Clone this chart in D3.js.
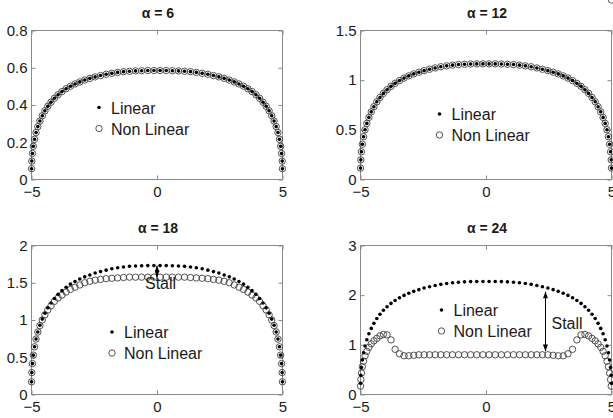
<!DOCTYPE html>
<html>
<head>
<meta charset="utf-8">
<script src="https://cdn.jsdelivr.net/npm/d3@7"></script>
<style>
  body { margin: 0; background: #fff; }
  svg { display: block; }
  text { font-family: "Liberation Sans", Arial, sans-serif; }
</style>
</head>
<body>
<svg id="chart" width="613" height="418"></svg>
<script>
// Spanwise stations (cosine spaced, -5 .. 5)
const span = [-4.998, -4.987, -4.962, -4.926, -4.878, -4.819, -4.748, -4.665, -4.571, -4.466, -4.350, -4.224, -4.088, -3.942, -3.786, -3.621,
  -3.448, -3.266, -3.076, -2.879, -2.675, -2.465, -2.248, -2.026, -1.800, -1.568, -1.334, -1.096, -0.855, -0.612, -0.368, -0.123,
  0.123, 0.368, 0.612, 0.855, 1.096, 1.334, 1.568, 1.800, 2.026, 2.248, 2.465, 2.675, 2.879, 3.076, 3.266, 3.448,
  3.621, 3.786, 3.942, 4.088, 4.224, 4.350, 4.466, 4.571, 4.665, 4.748, 4.819, 4.878, 4.926, 4.962, 4.987, 4.998];

// alpha = 6
const linear6 = [0.058, 0.099, 0.140, 0.178, 0.216, 0.252, 0.284, 0.314, 0.342, 0.369, 0.393, 0.415, 0.436, 0.455, 0.472, 0.487,
  0.501, 0.513, 0.524, 0.534, 0.543, 0.551, 0.558, 0.565, 0.570, 0.575, 0.579, 0.581, 0.583, 0.584, 0.585, 0.585,
  0.585, 0.585, 0.584, 0.583, 0.581, 0.579, 0.575, 0.570, 0.565, 0.558, 0.551, 0.543, 0.534, 0.524, 0.513, 0.501,
  0.487, 0.472, 0.455, 0.436, 0.415, 0.393, 0.369, 0.342, 0.314, 0.284, 0.252, 0.216, 0.178, 0.140, 0.099, 0.058];
const nonLinear6 = [0.058, 0.099, 0.140, 0.178, 0.216, 0.252, 0.284, 0.314, 0.342, 0.369, 0.393, 0.415, 0.436, 0.455, 0.472, 0.487,
  0.501, 0.513, 0.524, 0.534, 0.543, 0.551, 0.558, 0.565, 0.570, 0.575, 0.579, 0.581, 0.583, 0.584, 0.585, 0.585,
  0.585, 0.585, 0.584, 0.583, 0.581, 0.579, 0.575, 0.570, 0.565, 0.558, 0.551, 0.543, 0.534, 0.524, 0.513, 0.501,
  0.487, 0.472, 0.455, 0.436, 0.415, 0.393, 0.369, 0.342, 0.314, 0.284, 0.252, 0.216, 0.178, 0.140, 0.099, 0.058];

// alpha = 12
const linear12 = [0.115, 0.198, 0.279, 0.355, 0.431, 0.501, 0.565, 0.625, 0.681, 0.733, 0.782, 0.826, 0.867, 0.904, 0.938, 0.968,
  0.996, 1.021, 1.043, 1.063, 1.080, 1.096, 1.110, 1.123, 1.135, 1.144, 1.151, 1.157, 1.160, 1.163, 1.164, 1.164,
  1.164, 1.164, 1.163, 1.160, 1.157, 1.151, 1.144, 1.135, 1.123, 1.110, 1.096, 1.080, 1.063, 1.043, 1.021, 0.996,
  0.968, 0.938, 0.904, 0.867, 0.826, 0.782, 0.733, 0.681, 0.625, 0.565, 0.501, 0.431, 0.355, 0.279, 0.198, 0.115];
const nonLinear12 = [0.115, 0.198, 0.279, 0.355, 0.431, 0.501, 0.565, 0.625, 0.681, 0.733, 0.782, 0.826, 0.867, 0.904, 0.938, 0.968,
  0.996, 1.021, 1.043, 1.063, 1.080, 1.096, 1.110, 1.123, 1.135, 1.144, 1.151, 1.157, 1.160, 1.163, 1.164, 1.164,
  1.164, 1.164, 1.163, 1.160, 1.157, 1.151, 1.144, 1.135, 1.123, 1.110, 1.096, 1.080, 1.063, 1.043, 1.021, 0.996,
  0.968, 0.938, 0.904, 0.867, 0.826, 0.782, 0.733, 0.681, 0.625, 0.565, 0.501, 0.431, 0.355, 0.279, 0.198, 0.115];

// alpha = 18
const linear18 = [0.171, 0.294, 0.415, 0.528, 0.640, 0.744, 0.839, 0.929, 1.012, 1.090, 1.163, 1.228, 1.289, 1.344, 1.394, 1.439,
  1.481, 1.517, 1.550, 1.579, 1.605, 1.630, 1.650, 1.669, 1.687, 1.701, 1.711, 1.720, 1.725, 1.728, 1.730, 1.730,
  1.730, 1.730, 1.728, 1.725, 1.720, 1.711, 1.701, 1.687, 1.669, 1.650, 1.630, 1.605, 1.579, 1.550, 1.517, 1.481,
  1.439, 1.394, 1.344, 1.289, 1.228, 1.163, 1.090, 1.012, 0.929, 0.839, 0.744, 0.640, 0.528, 0.415, 0.294, 0.171];
const nonLinear18 = [0.171, 0.294, 0.415, 0.528, 0.640, 0.744, 0.839, 0.925, 1.000, 1.070, 1.135, 1.190, 1.250, 1.295, 1.335, 1.375,
  1.410, 1.440, 1.470, 1.500, 1.520, 1.535, 1.545, 1.555, 1.560, 1.565, 1.570, 1.575, 1.575, 1.575, 1.575, 1.575,
  1.575, 1.575, 1.575, 1.575, 1.575, 1.570, 1.565, 1.560, 1.555, 1.545, 1.535, 1.520, 1.500, 1.470, 1.440, 1.410,
  1.375, 1.335, 1.295, 1.250, 1.190, 1.135, 1.070, 1.000, 0.925, 0.839, 0.744, 0.640, 0.528, 0.415, 0.294, 0.171];

// alpha = 24
const linear24 = [0.225, 0.387, 0.546, 0.694, 0.842, 0.978, 1.103, 1.222, 1.331, 1.433, 1.529, 1.615, 1.695, 1.768, 1.834, 1.893,
  1.947, 1.995, 2.038, 2.077, 2.111, 2.143, 2.170, 2.195, 2.218, 2.236, 2.250, 2.261, 2.268, 2.273, 2.275, 2.275,
  2.275, 2.275, 2.273, 2.268, 2.261, 2.250, 2.236, 2.218, 2.195, 2.170, 2.143, 2.111, 2.077, 2.038, 1.995, 1.947,
  1.893, 1.834, 1.768, 1.695, 1.615, 1.529, 1.433, 1.331, 1.222, 1.103, 0.978, 0.842, 0.694, 0.546, 0.387, 0.225];
const nonLinear24 = [0.167, 0.300, 0.430, 0.560, 0.670, 0.780, 0.870, 0.950, 1.020, 1.080, 1.130, 1.180, 1.210, 1.200, 1.100, 0.910,
  0.820, 0.780, 0.780, 0.790, 0.800, 0.800, 0.800, 0.800, 0.800, 0.800, 0.800, 0.800, 0.800, 0.800, 0.800, 0.800,
  0.800, 0.800, 0.800, 0.800, 0.800, 0.800, 0.800, 0.800, 0.800, 0.800, 0.800, 0.790, 0.780, 0.780, 0.820, 0.910,
  1.100, 1.200, 1.210, 1.180, 1.130, 1.080, 1.020, 0.950, 0.870, 0.780, 0.670, 0.560, 0.430, 0.300, 0.167];

// Axis ticks
const xTicks = [-5, 0, 5];
const yTicks6 = [0, 0.2, 0.4, 0.6, 0.8];
const yTicks12 = [0, 0.5, 1, 1.5];
const yTicks18 = [0, 0.5, 1, 1.5, 2];
const yTicks24 = [0, 1, 2, 3];

const titles = ["\u03b1 = 6", "\u03b1 = 12", "\u03b1 = 18", "\u03b1 = 24"];
const legendLabels = ["Linear", "Non Linear"];

// Stall arrows: [span position, upper value, lower value]
const stall18 = [0, 1.73, 1.575];
const stall24 = [2.37, 2.07, 0.87];

const panels = [
  { title: titles[0], lin: linear6, non: nonLinear6, yMax: 0.8, yTicks: yTicks6,
    box: { l: 31.5, r: 282.5, t: 30.5, b: 179.5 }, legend: { x: 99, y: 107.5 } },
  { title: titles[1], lin: linear12, non: nonLinear12, yMax: 1.5, yTicks: yTicks12,
    box: { l: 360.5, r: 611.5, t: 30.5, b: 179.5 }, legend: { x: 439.5, y: 114 } },
  { title: titles[2], lin: linear18, non: nonLinear18, yMax: 2, yTicks: yTicks18,
    box: { l: 31.5, r: 282.5, t: 245.5, b: 394.5 }, legend: { x: 112, y: 332 },
    stall: stall18, stallText: { dx: -12, dy: 23 } },
  { title: titles[3], lin: linear24, non: nonLinear24, yMax: 3, yTicks: yTicks24,
    box: { l: 360.5, r: 611.5, t: 245.5, b: 394.5 }, legend: { x: 441.5, y: 310 },
    stall: stall24, stallText: { dx: 6, dy: 37 } }
];

const svg = d3.select("#chart");
const axisColor = "#8a8a8a";
const textColor = "#1a1a1a";

const defs = svg.append("defs");
defs.append("marker")
  .attr("id", "head")
  .attr("viewBox", "0 0 8 6")
  .attr("refX", 8).attr("refY", 3)
  .attr("markerWidth", 7).attr("markerHeight", 5)
  .attr("markerUnits", "userSpaceOnUse")
  .attr("orient", "auto-start-reverse")
  .append("path").attr("d", "M0,0 L8,3 L0,6 Z").attr("fill", "#000");

function styleAxis(g, showText) {
  g.select(".domain").remove();
  g.selectAll(".tick line").attr("stroke", axisColor);
  g.selectAll(".tick text")
    .attr("fill", textColor)
    .attr("font-size", 15)
    .attr("font-family", "'Liberation Sans', Arial, sans-serif")
    .style("display", showText ? null : "none");
}

panels.forEach(p => {
  const b = p.box;
  const x = d3.scaleLinear().domain([-5, 5]).range([b.l, b.r]);
  const y = d3.scaleLinear().domain([0, p.yMax]).range([b.b, b.t]);
  const g = svg.append("g");

  // Axes (ticks point inward, box style)
  g.append("g").attr("transform", `translate(0,${b.b})`)
    .call(d3.axisBottom(x).tickValues(xTicks).tickSize(-4).tickPadding(7))
    .call(a => styleAxis(a, true));
  g.append("g").attr("transform", `translate(0,${b.t})`)
    .call(d3.axisTop(x).tickValues(xTicks).tickSize(-4).tickFormat(""))
    .call(a => styleAxis(a, false));
  g.append("g").attr("transform", `translate(${b.l},0)`)
    .call(d3.axisLeft(y).tickValues(p.yTicks).tickSize(-4).tickPadding(4).tickFormat(d3.format("")))
    .call(a => styleAxis(a, true));
  g.append("g").attr("transform", `translate(${b.r},0)`)
    .call(d3.axisRight(y).tickValues(p.yTicks).tickSize(-4).tickFormat(""))
    .call(a => styleAxis(a, false));

  g.append("rect")
    .attr("x", b.l).attr("y", b.t)
    .attr("width", b.r - b.l).attr("height", b.b - b.t)
    .attr("fill", "none").attr("stroke", axisColor).attr("stroke-width", 1);

  // Title
  g.append("text")
    .attr("x", (b.l + b.r) / 2 + 1).attr("y", b.t - 12.5)
    .attr("text-anchor", "middle")
    .attr("font-size", 14).attr("font-weight", "bold")
    .attr("fill", textColor)
    .text(p.title);

  // Non linear: open circles
  g.append("g").selectAll("circle")
    .data(span.map((s, i) => [s, p.non[i]]))
    .join("circle")
    .attr("cx", d => x(d[0])).attr("cy", d => y(d[1]))
    .attr("r", 3.2)
    .attr("fill", "none").attr("stroke", "#404040").attr("stroke-width", 0.9);

  // Linear: small dots
  g.append("g").selectAll("circle")
    .data(span.map((s, i) => [s, p.lin[i]]))
    .join("circle")
    .attr("cx", d => x(d[0])).attr("cy", d => y(d[1]))
    .attr("r", 1.8)
    .attr("fill", "#000");

  // Legend
  const lg = g.append("g").attr("transform", `translate(${p.legend.x},${p.legend.y})`);
  lg.append("circle").attr("cx", 0).attr("cy", 0).attr("r", 1.8).attr("fill", "#000");
  lg.append("circle").attr("cx", 0).attr("cy", 21).attr("r", 3.2)
    .attr("fill", "none").attr("stroke", "#404040").attr("stroke-width", 0.9);
  lg.selectAll("text").data(legendLabels).join("text")
    .attr("x", 12).attr("y", (d, i) => i * 21 + 6)
    .attr("font-size", 16).attr("fill", textColor)
    .text(d => d);

  // Stall annotation
  if (p.stall) {
    const [sx, top, bottom] = p.stall;
    g.append("line")
      .attr("x1", x(sx)).attr("x2", x(sx))
      .attr("y1", y(top)).attr("y2", y(bottom))
      .attr("stroke", "#000").attr("stroke-width", 1)
      .attr("marker-start", "url(#head)").attr("marker-end", "url(#head)");
    g.append("text")
      .attr("x", x(sx) + p.stallText.dx).attr("y", y(top) + p.stallText.dy)
      .attr("font-size", 16).attr("fill", textColor)
      .text("Stall");
  }
});
</script>
</body>
</html>
